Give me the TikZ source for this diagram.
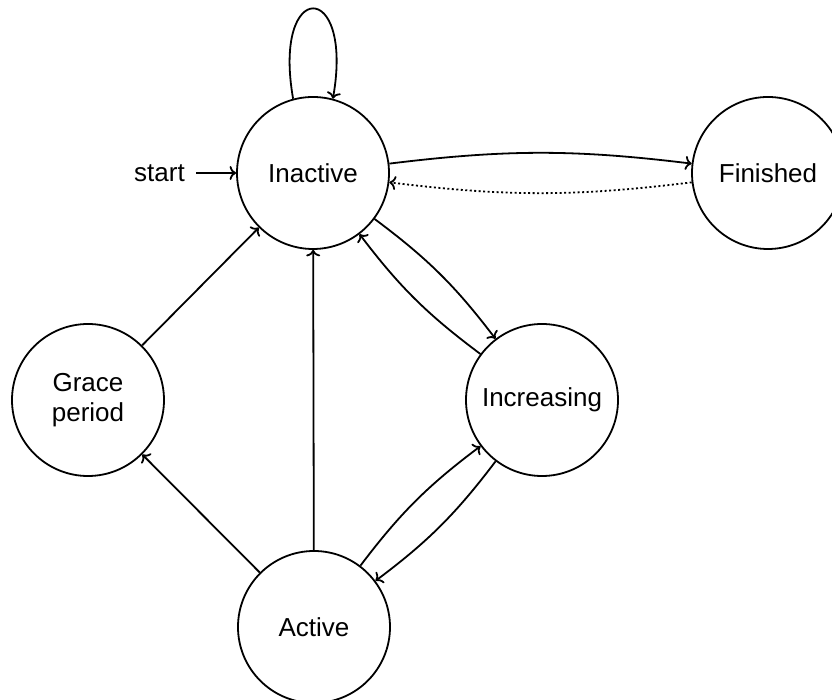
\documentclass[tikz,border=0pt]{standalone}
\usepackage{fontspec}
\setmainfont{Liberation Sans}
\usetikzlibrary{arrows.meta}
\begin{document}
\begin{tikzpicture}[x=1pt,y=1pt,
  state/.style={circle,draw,line width=1.8pt,minimum size=152pt,inner sep=0pt,align=center,
    font=\fontsize{26}{30}\selectfont},
  arr/.style={line width=1.8pt,-{To[length=6.5pt,width=14pt]}},
  dotarr/.style={arr,dash pattern=on 2pt off 2.5pt}]
\useasboundingbox (0,0) rectangle (832,700);
\node[state] (inactive) at (313,527) {Inactive};
\node[state] (finished) at (768,527) {Finished};
\node[state] (grace) at (88,300) {Grace\\period};
\node[state] (increasing) at (542,300) {Increasing};
\node[state] (active) at (314,73) {Active};
\node[font=\fontsize{26}{30}\selectfont,inner sep=0pt,anchor=east] (start) at (185,527) {start};
\draw[arr] ([xshift=11pt]start.east) -- (inactive.west);
\draw[arr] (inactive.105) .. controls +(100:122pt) and +(80:122pt) .. (inactive.75);
\draw[arr] (inactive) to[bend left=7] (finished);
\draw[dotarr] (finished) to[bend left=7] (inactive);
\draw[arr] (grace) -- (inactive);
\draw[arr] (active) -- (grace);
\draw[arr] (active) -- (inactive);
\draw[arr] (inactive) to[bend left=8] (increasing);
\draw[arr] (increasing) to[bend left=8] (inactive);
\draw[arr] (active) to[bend left=8] (increasing);
\draw[arr] (increasing) to[bend left=8] (active);
\end{tikzpicture}
\end{document}
